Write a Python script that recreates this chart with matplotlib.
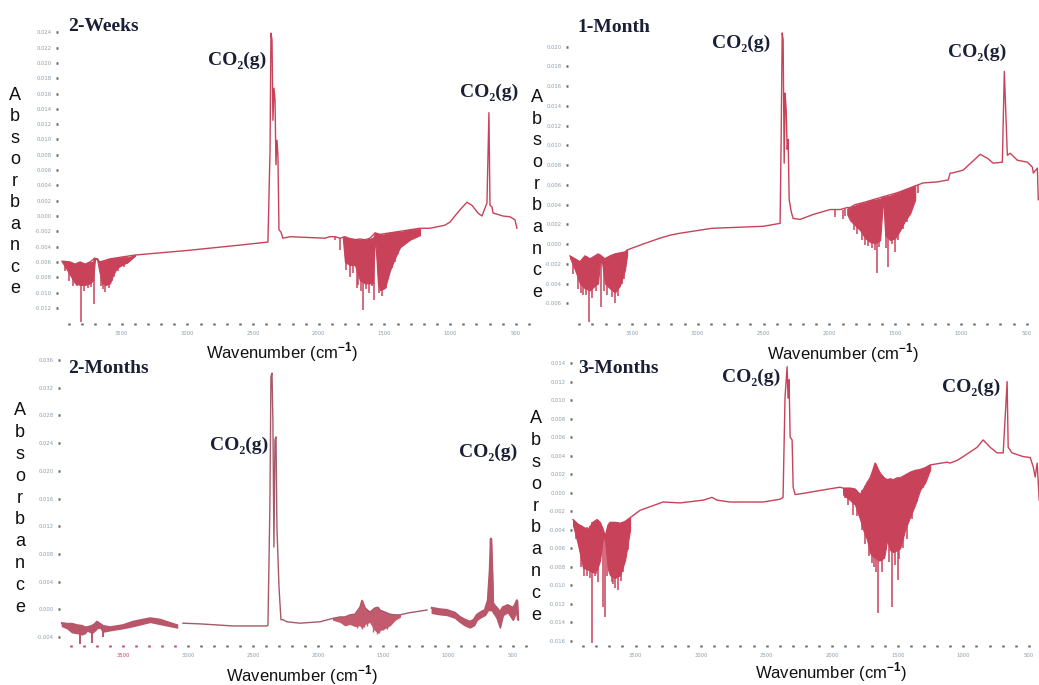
import numpy as np
import matplotlib
matplotlib.use("Agg")
import matplotlib.pyplot as plt

plt.rcParams["mathtext.fontset"] = "custom"
plt.rcParams["mathtext.rm"] = "Liberation Sans"
plt.rcParams["mathtext.bf"] = "Liberation Sans:bold"

W, H = 1039, 685
RED = "#c8425a"

# ========== 2-Weeks ==========
wk2_wn = [3954, 3893, 3855, 3817, 3779, 3741, 3703, 3665, 3627, 3589, 3551, 3513, 3437, 3399,
          3000, 2600, 2387, 2371, 2364, 2356, 2349, 2341, 2333, 2326, 2318, 2311, 2303, 2288,
          2273, 2219, 1953, 1915, 1877, 1839, 1801, 1763, 1725, 1687, 1648, 1610, 1572, 1534,
          1496, 1458, 1420, 1382, 1306, 1230, 1154, 1040, 1002, 926, 872, 834, 789, 758, 720,
          705, 697, 682, 674, 598, 545, 507, 492]
wk2_abs = [-0.0059, -0.0060, -0.0063, -0.0060, -0.0063, -0.0060, -0.0055, -0.0060, -0.0058,
           -0.0056, -0.0055, -0.0054, -0.0052, -0.0051, -0.0045, -0.0038, -0.0034, 0.0086,
           0.0239, 0.0230, 0.0125, 0.0167, 0.0152, 0.0067, 0.0099, 0.0080, -0.0018, -0.0021,
           -0.0029, -0.0027, -0.0029, -0.0027, -0.0027, -0.0029, -0.0027, -0.0030, -0.0031,
           -0.0030, -0.0031, -0.0029, -0.0022, -0.0024, -0.0023, -0.0022, -0.0021, -0.0020,
           -0.0018, -0.0016, -0.0016, -0.0012, -0.0008, 0.0008, 0.0018, 0.0014, 0.0004, 0.0000,
           0.0017, 0.0135, 0.0014, 0.0012, 0.0004, 0.0000, -0.0001, -0.0005, -0.0016]
# water-vapour bands: upper / lower edge
wk2_b1_wn = [3954, 3924, 3893, 3855, 3817, 3779, 3741, 3718, 3703, 3688, 3672, 3650, 3619,
             3589, 3566, 3536, 3498, 3452, 3399]
wk2_b1_top = [-0.0059, -0.0060, -0.0060, -0.0063, -0.0060, -0.0063, -0.0060, -0.0060, -0.0055,
              -0.0055, -0.0060, -0.0059, -0.0058, -0.0056, -0.0055, -0.0055, -0.0054, -0.0054,
              -0.0051]
wk2_b1_bot = [-0.0060, -0.0068, -0.0077, -0.0088, -0.0090, -0.0090, -0.0088, -0.0084, -0.0056,
              -0.0056, -0.0071, -0.0088, -0.0090, -0.0088, -0.0077, -0.0068, -0.0064, -0.0060,
              -0.0052]
wk2_b2_wn = [1816, 1801, 1763, 1725, 1687, 1648, 1610, 1588, 1572, 1550, 1534, 1496, 1458,
             1420, 1382, 1306, 1230]
wk2_b2_top = [-0.0027, -0.0027, -0.0029, -0.0030, -0.0031, -0.0031, -0.0030, -0.0029, -0.0022,
              -0.0024, -0.0025, -0.0024, -0.0022, -0.0021, -0.0021, -0.0018, -0.0017]
wk2_b2_bot = [-0.0031, -0.0060, -0.0064, -0.0064, -0.0084, -0.0088, -0.0088, -0.0088, -0.0025,
              -0.0088, -0.0097, -0.0094, -0.0071, -0.0055, -0.0041, -0.0031, -0.0025]
# individual absorption lines: position, upper end, lower end
wk2_sp_wn = [3930, 3900, 3870, 3840, 3810, 3785, 3760, 3735, 3711, 3660, 3645, 3627, 3600,
             3575, 3555, 3525, 3480, 3460,
             1877, 1839, 1790, 1763, 1740, 1709, 1700, 1680, 1664, 1640, 1620, 1595, 1580,
             1545, 1520, 1488, 1470, 1440, 1420, 1400, 1344, 1290, 1270]
wk2_sp_top = [-0.0060, -0.0060, -0.0062, -0.0062, -0.0060, -0.0063, -0.0061, -0.0060, -0.0055,
              -0.0060, -0.0059, -0.0058, -0.0057, -0.0055, -0.0055, -0.0055, -0.0054, -0.0054,
              -0.0027, -0.0029, -0.0027, -0.0029, -0.0030, -0.0030, -0.0030, -0.0031, -0.0031,
              -0.0031, -0.0030, -0.0029, -0.0029, -0.0024, -0.0024, -0.0024, -0.0023, -0.0022,
              -0.0021, -0.0021, -0.0019, -0.0018, -0.0017]
wk2_sp_bot = [-0.0072, -0.0085, -0.0092, -0.0092, -0.0139, -0.0098, -0.0094, -0.0093, -0.0115,
              -0.0092, -0.0096, -0.0099, -0.0094, -0.0085, -0.0080, -0.0072, -0.0066, -0.0063,
              -0.0031, -0.0044, -0.0070, -0.0080, -0.0075, -0.0094, -0.0090, -0.0098, -0.0123,
              -0.0096, -0.0100, -0.0092, -0.0110, -0.0100, -0.0104, -0.0094, -0.0082, -0.0068,
              -0.0060, -0.0050, -0.0035, -0.0028, -0.0026]

# ========== 1-Month ==========
mo1_wn = [3970, 3932, 3894, 3856, 3818, 3780, 3757, 3742, 3704, 3666, 3628, 3590, 3552, 3536,
          3415, 3286, 3210, 3134, 2890, 2503, 2374, 2366, 2358, 2351, 2343, 2336, 2328, 2320,
          2313, 2305, 2290, 2275, 2222, 2123, 1994, 1918, 1864, 1842, 1804, 1743, 1667, 1591,
          1484, 1386, 1287, 1180, 1097, 1082, 1066, 983, 854, 800, 755, 686, 671, 648, 626,
          572, 496, 458, 451, 420, 413]
mo1_abs = [-0.0012, -0.0015, -0.0018, -0.0012, -0.0015, -0.0012, -0.0010, -0.0011, -0.0015,
           -0.0012, -0.0010, -0.0009, -0.0008, -0.0006, 0.0000, 0.0006, 0.0009, 0.0011, 0.0016,
           0.0018, 0.0021, 0.0106, 0.0214, 0.0207, 0.0082, 0.0153, 0.0136, 0.0096, 0.0106,
           0.0045, 0.0033, 0.0026, 0.0025, 0.0030, 0.0035, 0.0035, 0.0037, 0.0037, 0.0040,
           0.0042, 0.0045, 0.0048, 0.0052, 0.0057, 0.0062, 0.0063, 0.0065, 0.0072, 0.0072,
           0.0075, 0.0091, 0.0087, 0.0082, 0.0083, 0.0175, 0.0090, 0.0092, 0.0085, 0.0083,
           0.0078, 0.0072, 0.0077, 0.0045]
mo1_b1_wn = [3970, 3932, 3894, 3856, 3818, 3780, 3757, 3742, 3726, 3704, 3666, 3628, 3590,
             3552, 3536]
mo1_b1_top = [-0.0012, -0.0015, -0.0018, -0.0012, -0.0015, -0.0012, -0.0010, -0.0011, -0.0013,
              -0.0015, -0.0012, -0.0010, -0.0009, -0.0008, -0.0006]
mo1_b1_bot = [-0.0014, -0.0026, -0.0040, -0.0045, -0.0047, -0.0042, -0.0040, -0.0018, -0.0019,
              -0.0040, -0.0045, -0.0049, -0.0042, -0.0026, -0.0011]
mo1_b2_wn = [1864, 1842, 1804, 1766, 1728, 1690, 1652, 1614, 1591, 1576, 1538, 1500, 1462,
             1424, 1386, 1348]
mo1_b2_top = [0.0036, 0.0037, 0.0039, 0.0041, 0.0042, 0.0044, 0.0045, 0.0046, 0.0048, 0.0048,
              0.0049, 0.0051, 0.0053, 0.0055, 0.0057, 0.0059]
mo1_b2_bot = [0.0030, 0.0024, 0.0019, 0.0014, 0.0006, 0.0002, 0.0001, 0.0004, 0.0047, 0.0009,
              0.0004, 0.0006, 0.0014, 0.0024, 0.0031, 0.0045]
mo1_sp_wn = [3950, 3910, 3885, 3870, 3845, 3825, 3800, 3770, 3734, 3715, 3690, 3650, 3628,
             3605, 3575, 3560,
             1956, 1900, 1880, 1815, 1790, 1750, 1728, 1705, 1674, 1655, 1636, 1620, 1570,
             1553, 1525, 1500, 1480, 1440, 1410, 1370, 1330]
mo1_sp_top = [-0.0014, -0.0016, -0.0017, -0.0014, -0.0013, -0.0015, -0.0014, -0.0011, -0.0012,
              -0.0014, -0.0013, -0.0011, -0.0010, -0.0009, -0.0008, -0.0008,
              0.0035, 0.0035, 0.0036, 0.0039, 0.0040, 0.0041, 0.0042, 0.0043, 0.0044, 0.0045,
              0.0045, 0.0046, 0.0048, 0.0049, 0.0050, 0.0051, 0.0052, 0.0054, 0.0056, 0.0058,
              0.0060]
mo1_sp_bot = [-0.0030, -0.0046, -0.0050, -0.0052, -0.0052, -0.0079, -0.0055, -0.0048, -0.0064,
              -0.0048, -0.0052, -0.0054, -0.0060, -0.0053, -0.0040, -0.0035,
              0.0027, 0.0025, 0.0028, 0.0014, 0.0010, 0.0004, -0.0001, -0.0002, -0.0004,
              -0.0006, -0.0029, -0.0003, -0.0004, -0.0023, 0.0000, -0.0008, 0.0004, 0.0015,
              0.0022, 0.0038, 0.0052]

# ========== 2-Months ==========
mo2_a_wn = [3969, 3931, 3892, 3854, 3815, 3792, 3777, 3739, 3715, 3700, 3677, 3654, 3600,
            3500, 3423, 3292, 3216, 3085]
mo2_a_top = [-0.0020, -0.0021, -0.0021, -0.0023, -0.0024, -0.0026, -0.0026, -0.0024, -0.0021,
             -0.0018, -0.0021, -0.0024, -0.0026, -0.0023, -0.0018, -0.0013, -0.0015, -0.0023]
mo2_a_bot = [-0.0024, -0.0027, -0.0033, -0.0034, -0.0036, -0.0034, -0.0030, -0.0034, -0.0030,
             -0.0027, -0.0026, -0.0032, -0.0030, -0.0027, -0.0024, -0.0018, -0.0021, -0.0026]
mo2_wn = [3039, 2908, 2654, 2393, 2385, 2370, 2362, 2354, 2347, 2339, 2331, 2323, 2316, 2300,
          2285, 2270, 2239, 2139, 1985, 1885, 1831, 1793, 1755, 1716, 1678, 1662, 1639, 1601,
          1562, 1539, 1524, 1485, 1447, 1408, 1370, 1300, 1162]
mo2_abs = [-0.0020, -0.0021, -0.0024, -0.0024, -0.0023, 0.0150, 0.0336, 0.0341, 0.0273, 0.0090,
           0.0245, 0.0249, 0.0119, 0.0032, -0.0015, -0.0015, -0.0018, -0.0020, -0.0018,
           -0.0013, -0.0011, -0.0011, -0.0008, -0.0007, 0.0003, 0.0013, 0.0002, -0.0004,
           0.0002, 0.0003, -0.0001, -0.0004, -0.0007, -0.0008, -0.0008, -0.0005, -0.0001]
mo2_b_wn = [1885, 1831, 1793, 1755, 1716, 1678, 1662, 1639, 1601, 1562, 1539, 1524, 1485,
            1447, 1408, 1370]
mo2_b_top = [-0.0013, -0.0011, -0.0011, -0.0008, -0.0007, 0.0003, 0.0013, 0.0002, -0.0004,
             0.0002, 0.0003, -0.0001, -0.0004, -0.0007, -0.0008, -0.0008]
mo2_b_bot = [-0.0015, -0.0018, -0.0023, -0.0021, -0.0024, -0.0023, -0.0026, -0.0021, -0.0018,
             -0.0030, -0.0033, -0.0030, -0.0027, -0.0023, -0.0015, -0.0011]
mo2_c_wn = [1124, 1062, 1009, 947, 909, 870, 832, 801, 778, 747, 716, 693, 678, 670, 662, 655,
            639, 624, 601, 578, 540, 501, 486, 470, 463]
mo2_c_top = [0.0002, 0.0000, -0.0001, -0.0005, -0.0011, -0.0015, -0.0018, -0.0015, -0.0008,
             -0.0004, -0.0001, 0.0013, 0.0057, 0.0102, 0.0057, 0.0009, 0.0005, 0.0002, -0.0004,
             0.0003, 0.0006, 0.0002, 0.0006, 0.0013, -0.0013]
mo2_c_bot = [-0.0005, -0.0007, -0.0008, -0.0012, -0.0018, -0.0023, -0.0026, -0.0023, -0.0015,
             -0.0011, -0.0008, -0.0001, -0.0001, -0.0001, -0.0001, -0.0004, -0.0008, -0.0013,
             -0.0026, -0.0008, -0.0004, -0.0015, -0.0008, -0.0004, -0.0015]
mo2_sp_wn = [3831, 3739, 3654]
mo2_sp_top = [-0.0024, -0.0024, -0.0024]
mo2_sp_bot = [-0.0050, -0.0048, -0.0040]
mo2_sp2_wn = [1700, 1662, 1650, 1620, 1580, 1550, 1530, 1500, 1470]
mo2_sp2_top = [-0.0007, 0.0013, 0.0005, -0.0004, 0.0002, 0.0003, -0.0001, -0.0004, -0.0005]
mo2_sp2_bot = [-0.0027, -0.0028, -0.0026, -0.0024, -0.0033, -0.0036, -0.0034, -0.0030, -0.0028]

# ========== 3-Months ==========
mo3_wn = [3977, 3939, 3901, 3863, 3825, 3794, 3771, 3748, 3733, 3710, 3695, 3657, 3618, 3580,
          3542, 3466, 3290, 3161, 2985, 2917, 2878, 2779, 2527, 2398, 2375, 2360, 2344, 2337,
          2329, 2321, 2306, 2298, 2283, 2192, 2070, 1940, 1917, 1864, 1826, 1787, 1764, 1734,
          1711, 1688, 1673, 1650, 1635, 1604, 1581, 1558, 1535, 1505, 1482, 1444, 1406, 1368,
          1330, 1291, 1253, 1124, 1101, 1047, 1001, 895, 849, 795, 742, 696, 666, 658, 628,
          544, 490, 467, 452, 437, 421]
mo3_abs = [-0.0029, -0.0034, -0.0037, -0.0040, -0.0032, -0.0029, -0.0032, -0.0040, -0.0048,
           -0.0035, -0.0032, -0.0032, -0.0033, -0.0031, -0.0027, -0.0019, -0.0010, -0.0011,
           -0.0008, -0.0005, -0.0008, -0.0010, -0.0010, -0.0007, -0.0005, 0.0103, 0.0136,
           0.0102, 0.0122, 0.0060, 0.0057, 0.0006, -0.0002, 0.0000, 0.0003, 0.0006, 0.0005,
           0.0005, 0.0004, -0.0002, 0.0003, 0.0011, 0.0016, 0.0025, 0.0032, 0.0025, 0.0021,
           0.0016, 0.0014, 0.0015, 0.0014, 0.0016, 0.0016, 0.0019, 0.0022, 0.0024, 0.0025,
           0.0027, 0.0030, 0.0033, 0.0032, 0.0035, 0.0039, 0.0049, 0.0057, 0.0049, 0.0043,
           0.0043, 0.0120, 0.0049, 0.0043, 0.0039, 0.0038, 0.0028, 0.0017, 0.0032, -0.0008]
mo3_b1_wn = [3977, 3939, 3901, 3863, 3825, 3794, 3771, 3748, 3733, 3710, 3695, 3657, 3618,
             3580, 3542]
mo3_b1_top = [-0.0029, -0.0034, -0.0037, -0.0040, -0.0032, -0.0029, -0.0032, -0.0040, -0.0048,
              -0.0035, -0.0032, -0.0032, -0.0033, -0.0031, -0.0027]
mo3_b1_bot = [-0.0035, -0.0056, -0.0081, -0.0083, -0.0086, -0.0083, -0.0073, -0.0048, -0.0051,
              -0.0083, -0.0089, -0.0092, -0.0089, -0.0073, -0.0040]
mo3_b2_wn = [1917, 1864, 1826, 1787, 1764, 1734, 1711, 1688, 1673, 1650, 1635, 1604, 1581,
             1558, 1535, 1505, 1482, 1444, 1406, 1368, 1330, 1291, 1253]
mo3_b2_top = [0.0005, 0.0005, 0.0004, -0.0002, 0.0003, 0.0011, 0.0016, 0.0025, 0.0032, 0.0025,
              0.0021, 0.0016, 0.0014, 0.0015, 0.0014, 0.0016, 0.0016, 0.0019, 0.0022, 0.0024,
              0.0025, 0.0027, 0.0030]
mo3_b2_bot = [-0.0002, -0.0008, -0.0013, -0.0029, -0.0040, -0.0051, -0.0065, -0.0069, -0.0070,
              -0.0073, -0.0073, -0.0070, -0.0051, -0.0062, -0.0064, -0.0062, -0.0060, -0.0040,
              -0.0026, -0.0013, 0.0003, 0.0011, 0.0025]
mo3_sp_wn = [3955, 3915, 3890, 3870, 3850, 3832, 3810, 3800, 3786, 3748, 3733, 3720, 3680,
             3670, 3657, 3634, 3610, 3595, 3560,
             1900, 1880, 1841, 1810, 1772, 1750, 1720, 1696, 1680, 1665, 1650, 1620, 1590,
             1570, 1543, 1520, 1497, 1490, 1459, 1430, 1421, 1390, 1350, 1310]
mo3_sp_top = [-0.0032, -0.0035, -0.0038, -0.0037, -0.0036, -0.0032, -0.0031, -0.0030, -0.0030,
              -0.0040, -0.0048, -0.0040, -0.0032, -0.0032, -0.0032, -0.0032, -0.0033, -0.0032,
              -0.0029,
              0.0005, 0.0005, 0.0005, 0.0002, 0.0003, 0.0007, 0.0013, 0.0016, 0.0028, 0.0030,
              0.0021, 0.0019, 0.0015, 0.0014, 0.0014, 0.0015, 0.0015, 0.0016, 0.0017, 0.0020,
              0.0020, 0.0023, 0.0024, 0.0026]
mo3_sp_bot = [-0.0050, -0.0080, -0.0090, -0.0090, -0.0092, -0.0162, -0.0090, -0.0088, -0.0096,
              -0.0123, -0.0134, -0.0090, -0.0096, -0.0098, -0.0103, -0.0105, -0.0095, -0.0085,
              -0.0062,
              -0.0006, -0.0013, -0.0024, -0.0025, -0.0040, -0.0055, -0.0068, -0.0076, -0.0080,
              -0.0085, -0.0130, -0.0085, -0.0062, -0.0075, -0.0123, -0.0078, -0.0094, -0.0072,
              -0.0060, -0.0050, -0.0026, -0.0028, -0.0010, 0.0005]

# y tick values of each panel
wk2_yticks = [-0.012, -0.010, -0.008, -0.006, -0.004, -0.002, 0.000, 0.002, 0.004, 0.006,
              0.008, 0.010, 0.012, 0.014, 0.016, 0.018, 0.020, 0.022, 0.024]
mo1_yticks = [-0.006, -0.004, -0.002, 0.000, 0.002, 0.004, 0.006, 0.008, 0.010, 0.012, 0.014,
              0.016, 0.018, 0.020]
mo2_yticks = [-0.004, 0.000, 0.004, 0.008, 0.012, 0.016, 0.020, 0.024, 0.028, 0.032, 0.036]
mo3_yticks = [-0.016, -0.014, -0.012, -0.010, -0.008, -0.006, -0.004, -0.002, 0.000, 0.002,
              0.004, 0.006, 0.008, 0.010, 0.012, 0.014]
x_major = [3500, 3000, 2500, 2000, 1500, 1000, 500]
x_minor = list(range(3900, 399, -100))


def px_rect(x0, x1, y0, y1):
    return [x0 / W, 1 - y1 / H, (x1 - x0) / W, (y1 - y0) / H]


def setup_axes(ax, ylim, yticks):
    ax.set_xlim(4000, 400)
    ax.set_ylim(*ylim)
    for s in ax.spines.values():
        s.set_visible(False)
    ax.set_xticks(x_major)
    ax.set_xticks(x_minor, minor=True)
    ax.set_xticklabels([str(v) for v in x_major])
    ax.set_yticks(yticks)
    ax.set_yticklabels([f"{v:.3f}" for v in yticks])
    ax.tick_params(axis="x", which="both", length=1.6, width=1.8, color="#6a6a6a",
                   direction="out", pad=4.5, labelsize=3.8, labelcolor="#8c9cab")
    ax.tick_params(axis="y", which="both", length=1.6, width=1.8, color="#6a6a6a",
                   direction="in", pad=3, labelsize=3.8, labelcolor="#8c9cab")
    ax.patch.set_alpha(0)


def draw_bands(ax, bands, color=RED):
    for bwn, btop, bbot in bands:
        ax.fill_between(bwn, btop, bbot, color=color, lw=0.8, edgecolor=color)


fig = plt.figure(figsize=(W / 100, H / 100), dpi=100)

# ---------- 2-Weeks ----------
ax1 = fig.add_axes(px_rect(56, 529, 28, 323))
setup_axes(ax1, (-0.01398, 0.02457), wk2_yticks)
ax1.plot(wk2_wn, wk2_abs, color=RED, lw=1.0)
draw_bands(ax1, [(wk2_b1_wn, wk2_b1_top, wk2_b1_bot), (wk2_b2_wn, wk2_b2_top, wk2_b2_bot)])
ax1.vlines(wk2_sp_wn, wk2_sp_bot, wk2_sp_top, color=RED, lw=1.1)

# ---------- 1-Month ----------
ax2 = fig.add_axes(px_rect(566, 1040, 28, 323))
setup_axes(ax2, (-0.0080, 0.0219), mo1_yticks)
ax2.plot(mo1_wn, mo1_abs, color=RED, lw=1.0)
draw_bands(ax2, [(mo1_b1_wn, mo1_b1_top, mo1_b1_bot), (mo1_b2_wn, mo1_b2_top, mo1_b2_bot)])
ax2.vlines(mo1_sp_wn, mo1_sp_bot, mo1_sp_top, color=RED, lw=1.1)

# ---------- 2-Months ----------
ax3 = fig.add_axes(px_rect(58, 526, 355, 645))
setup_axes(ax3, (-0.00515, 0.03672), mo2_yticks)
SOFT = "#b9566a"
ax3.fill_between(mo2_a_wn, mo2_a_top, mo2_a_bot, color=SOFT, lw=1.2)
ax3.plot(mo2_a_wn, mo2_a_top, color=SOFT, lw=1.6)
ax3.vlines(mo2_sp_wn, mo2_sp_bot, mo2_sp_top, color=SOFT, lw=1.4)
ax3.plot(mo2_wn, mo2_abs, color="#a45a68", lw=1.0)
draw_bands(ax3, [(mo2_b_wn, mo2_b_top, mo2_b_bot)], color="#c45a6e")
ax3.vlines(mo2_sp2_wn, mo2_sp2_bot, mo2_sp2_top, color="#c45a6e", lw=1.0)
ax3.fill_between(mo2_c_wn, mo2_c_top, mo2_c_bot, color=SOFT, lw=1.2)
ax3.plot(mo2_c_wn, mo2_c_top, color=SOFT, lw=1.6)

# ---------- 3-Months ----------
ax4 = fig.add_axes(px_rect(570, 1042, 358, 645))
setup_axes(ax4, (-0.01643, 0.01454), mo3_yticks)
ax4.plot(mo3_wn, mo3_abs, color=RED, lw=1.0)
draw_bands(ax4, [(mo3_b1_wn, mo3_b1_top, mo3_b1_bot), (mo3_b2_wn, mo3_b2_top, mo3_b2_bot)])
ax4.vlines(mo3_sp_wn, mo3_sp_bot, mo3_sp_top, color=RED, lw=1.1)

# ---------- text ----------
def ftext(x, y, s, **kw):
    fig.text(x / W, 1 - y / H, s, **kw)


serif_bold = dict(family=["Liberation Serif", "DejaVu Serif"], weight="bold", color="#1b1f36")
sans = dict(family=["Liberation Sans", "DejaVu Sans"], color="#111111")

for x0, y0, title in [(68, 31, "2-Weeks"), (577, 32, "1-Month"),
                      (68, 373, "2-Months"), (578, 373, "3-Months")]:
    ftext(x0, y0, title, fontsize=14, va="baseline", ha="left", **serif_bold)

for x0, y0 in [(208, 65), (460, 97), (712, 48), (948, 57),
               (210, 450), (459, 457), (722, 382), (942, 392)]:
    ftext(x0, y0, "CO\u2082(g)", fontsize=14, va="baseline", ha="left", **serif_bold)

for xc, yc in [(282, 352), (843, 353), (302, 675), (831, 672)]:
    ftext(xc, yc, r"Wavenumber (cm$^{\mathbf{-1}}$)", fontsize=12, ha="center", va="center", **sans)

for xc, ya, ye in [(15, 100, 293), (537, 102, 297), (20, 415, 612), (536, 423, 620)]:
    step = (ye - ya) / 9
    for i, ch in enumerate("Absorbance"):
        ftext(xc, ya + i * step, ch, fontsize=13, ha="center", va="baseline", **sans)

# the 2-Months scan has its high-wavenumber tick marks in red
fig.canvas.draw()
for tick in ax3.xaxis.get_major_ticks() + ax3.xaxis.get_minor_ticks():
    if tick.get_loc() is not None and tick.get_loc() >= 3100:
        tick.tick1line.set_markeredgecolor("#c8405a")
        tick.label1.set_color("#c8405a")

plt.savefig("out.png", dpi=100)
